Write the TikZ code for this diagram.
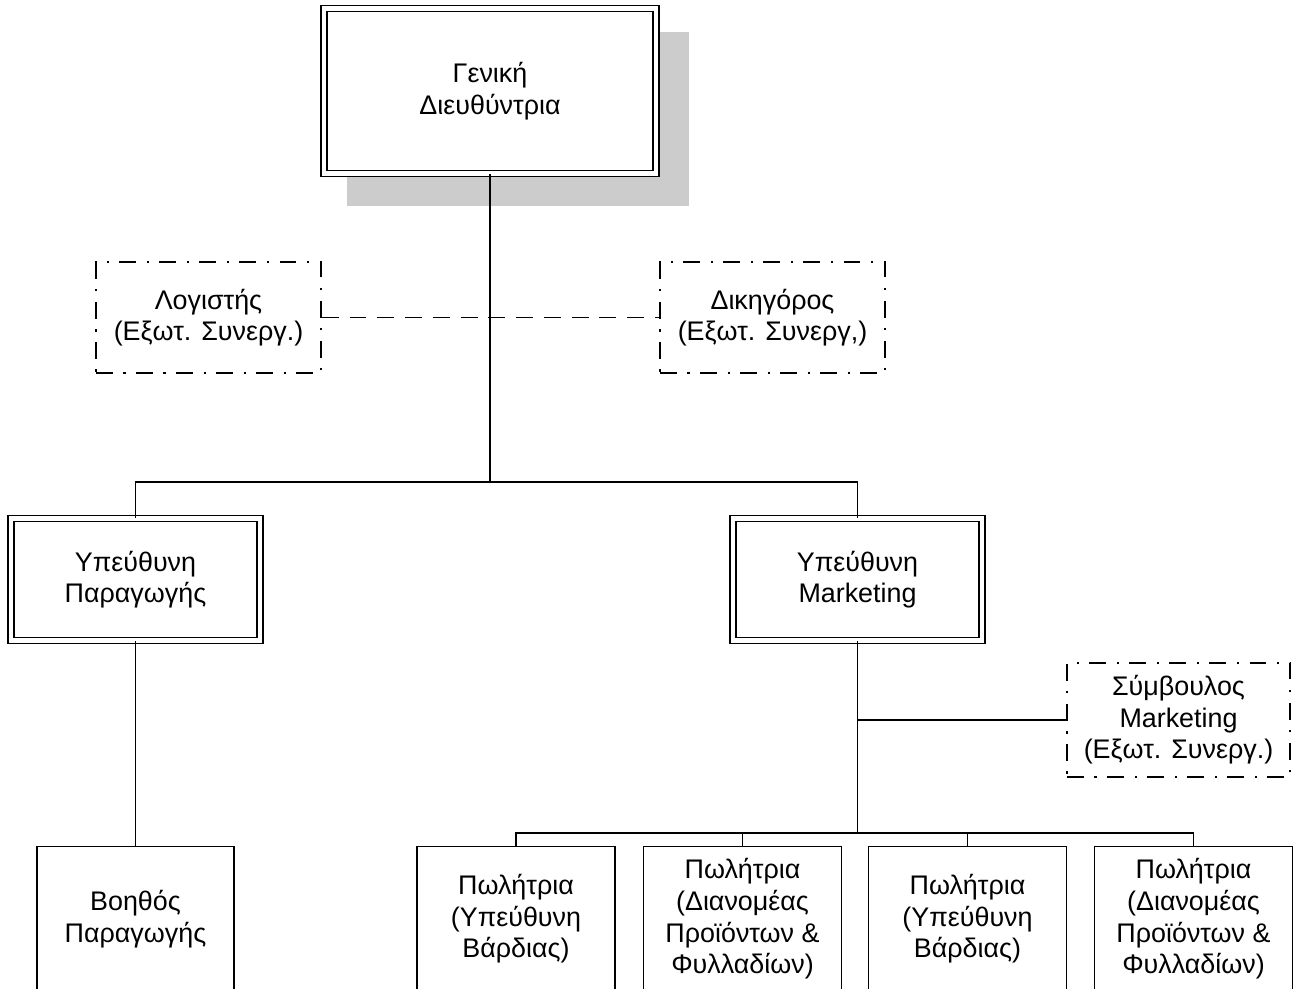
\documentclass[tikz,border=0pt]{standalone}
\usepackage{fontspec}
\setmainfont{Liberation Sans}
\usepackage{tikz}
\usetikzlibrary{calc,backgrounds}

\tikzset{
  headbox/.style={draw, fill=white, double, line width=0.8pt, double distance=2.6pt,
    inner sep=0pt, align=center, font=\fontsize{15.3}{18}\selectfont},
  extbox/.style={draw, line width=1pt, dash pattern=on 9.6pt off 6pt on 1.2pt off 6pt,
    inner sep=0pt, align=center, font=\fontsize{15.3}{18}\selectfont,
    minimum height=2.22cm},
  staffbox/.style={draw, line width=1pt, inner sep=0pt, align=center,
    font=\fontsize{15.3}{18}\selectfont, minimum width=3.96cm, minimum height=2.9cm},
  link/.style={line width=1.1pt},
  extlink/.style={line width=1.1pt, dash pattern=on 9.6pt off 6.2pt}
}

\begin{document}
\begin{tikzpicture}[x=0.02cm,y=-0.02cm]
\clip (0,0) rectangle (1294,988);

% top level
\node[headbox, minimum width=6.64cm, minimum height=3.3cm] (gen) at (490,91) {Γενική\\Διευθύντρια};
\begin{scope}[on background layer]
\fill[black!20] ($(gen.south west)+(24,31.5)$) rectangle ($(gen.north east)+(32.5,24.5)$);
\end{scope}

% external staff of the director
\node[extbox, minimum width=4.5cm] (log) at (208.5,317.5) {Λογιστής\\(Εξωτ. Συνεργ.)};
\node[extbox, minimum width=4.5cm] (dik) at (772.5,317.5) {Δικηγόρος\\(Εξωτ. Συνεργ,)};

% heads of department
\node[headbox, minimum width=4.98cm, minimum height=2.44cm] (par) at (135.5,579.5) {Υπεύθυνη\\Παραγωγής};
\node[headbox, minimum width=4.98cm, minimum height=2.44cm] (mkt) at (857.5,579.5) {Υπεύθυνη\\Marketing};

\node[extbox, minimum width=4.46cm, minimum height=2.28cm] (sym) at (1178.5,720) {Σύμβουλος\\Marketing\\(Εξωτ. Συνεργ.)};

% staff
\node[staffbox, minimum width=3.94cm] (boh) at (135.5,919) {Βοηθός\\Παραγωγής};
\node[staffbox] (pw1) at (516,919) {Πωλήτρια\\(Υπεύθυνη\\Βάρδιας)};
\node[staffbox] (pw2) at (742.5,919) {Πωλήτρια\\(Διανομέας\\Προϊόντων \&\\Φυλλαδίων)};
\node[staffbox] (pw3) at (967.5,919) {Πωλήτρια\\(Υπεύθυνη\\Βάρδιας)};
\node[staffbox] (pw4) at (1193.5,919) {Πωλήτρια\\(Διανομέας\\Προϊόντων \&\\Φυλλαδίων)};

% connectors
\coordinate (bus) at (490,482);
\coordinate (sbus) at (857.5,833);
\draw[link] (gen.south) -- (bus);
\draw[link] (par.north) |- (bus) -| (mkt.north);
\draw[extlink] (log.east) -- (dik.west);
\draw[link] (par.south) -- (boh.north);
\draw[link] (mkt.south) -- (sbus);
\draw[link] (mkt.south |- sym.west) -- (sym.west);
\draw[link] (pw1.north) |- (sbus) -| (pw4.north);
\draw[link] (pw2.north) -- (pw2.north |- sbus);
\draw[link] (pw3.north) -- (pw3.north |- sbus);
\end{tikzpicture}
\end{document}
